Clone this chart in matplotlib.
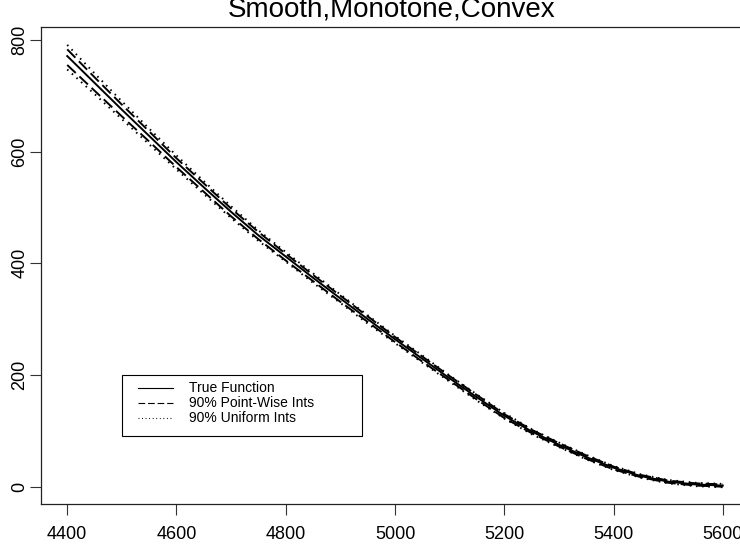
import matplotlib
matplotlib.use("Agg")
import matplotlib.pyplot as plt
from matplotlib.patches import Rectangle
from matplotlib.lines import Line2D

plt.rcParams['font.family'] = ['Liberation Sans', 'DejaVu Sans']

# ---- data ----
x_grid = [4400, 4450, 4500, 4550, 4600, 4650, 4700, 4750, 4800, 4850, 4900, 4950,
          5000, 5050, 5100, 5150, 5200, 5250, 5300, 5350, 5400, 5450, 5500, 5550, 5600]
true_fn = [771, 723, 675, 628, 581, 536, 492, 450, 412, 374, 337, 300,
           264, 229, 194, 160, 127, 99, 75, 53, 34, 19, 9, 4, 2]
pw_upper = [783, 733, 684, 636, 588, 543, 498, 456, 417, 379, 342, 305,
            268, 233, 198, 164, 130, 102, 78, 56, 36, 21, 11, 6, 4]
pw_lower = [755, 709, 663, 618, 572, 528, 484, 443, 405, 368, 331, 295,
            259, 224, 190, 156, 123, 96, 72, 50, 31, 17, 7, 2, 0]
u_upper = [791, 740, 690, 641, 593, 547, 502, 459, 420, 382, 344, 307,
           270, 235, 199, 165, 132, 103, 79, 57, 37, 22, 12, 7, 5]
u_lower = [747, 703, 658, 613, 568, 524, 481, 440, 403, 365, 329, 292,
           257, 222, 188, 154, 122, 94, 71, 49, 30, 16, 6, 1, -1]

x_ticks = [4400, 4600, 4800, 5000, 5200, 5400, 5600]
y_ticks = [0, 200, 400, 600, 800]
title = "Smooth,Monotone,Convex"
legend_labels = ["True Function", "90% Point-Wise Ints", "90% Uniform Ints"]

W, H = 740, 550
fig = plt.figure(figsize=(W / 100, H / 100), dpi=100)
# axes box in pixels: left 41, right ~749 (beyond image), top 27, bottom 504
ax = fig.add_axes([41 / W, 1 - 504 / H, (749 - 41) / W, (504 - 27) / H])

dash = (0, (6.0, 2.6))
dot = (0, (0.8, 2.4))
lw = 1.4
ax.plot(x_grid, true_fn, color='black', lw=lw, ls='-')
ax.plot(x_grid, pw_upper, color='black', lw=lw, ls=dash)
ax.plot(x_grid, pw_lower, color='black', lw=lw, ls=dash)
ax.plot(x_grid, u_upper, color='black', lw=lw, ls=dot)
ax.plot(x_grid, u_lower, color='black', lw=lw, ls=dot)

ax.set_xlim(4352, 5648)
ax.set_ylim(-31, 823)
ax.set_xticks(x_ticks)
ax.set_yticks(y_ticks)
ax.tick_params(axis='both', direction='out', length=7.7, width=0.8, color='#333333',
               labelsize=13)
ax.tick_params(axis='x', pad=8)
ax.tick_params(axis='y', pad=1.5)
for lab in ax.get_yticklabels():
    lab.set_rotation(90)
    lab.set_va('center')
for s in ax.spines.values():
    s.set_linewidth(0.9)
    s.set_color('#222222')

fig.text(392 / W, 1 - 16 / H, title, ha='center', va='baseline', fontsize=20)

# legend box drawn as in R's legend()
fig.add_artist(Rectangle((122 / W, 1 - 436 / H), 240 / W, 61 / H,
                         transform=fig.transFigure, fill=False,
                         ec='black', lw=0.8))
styles = ['-', dash, dot]
rows = [388, 403, 418]
for lab, st, yy in zip(legend_labels, styles, rows):
    fig.add_artist(Line2D([137.7 / W, 172.7 / W], [1 - yy / H, 1 - yy / H],
                          transform=fig.transFigure, color='black', lw=0.8, ls=st))
    fig.text(189 / W, 1 - yy / H, lab, ha='left', va='center', fontsize=10)

fig.savefig("out.png", dpi=100)
